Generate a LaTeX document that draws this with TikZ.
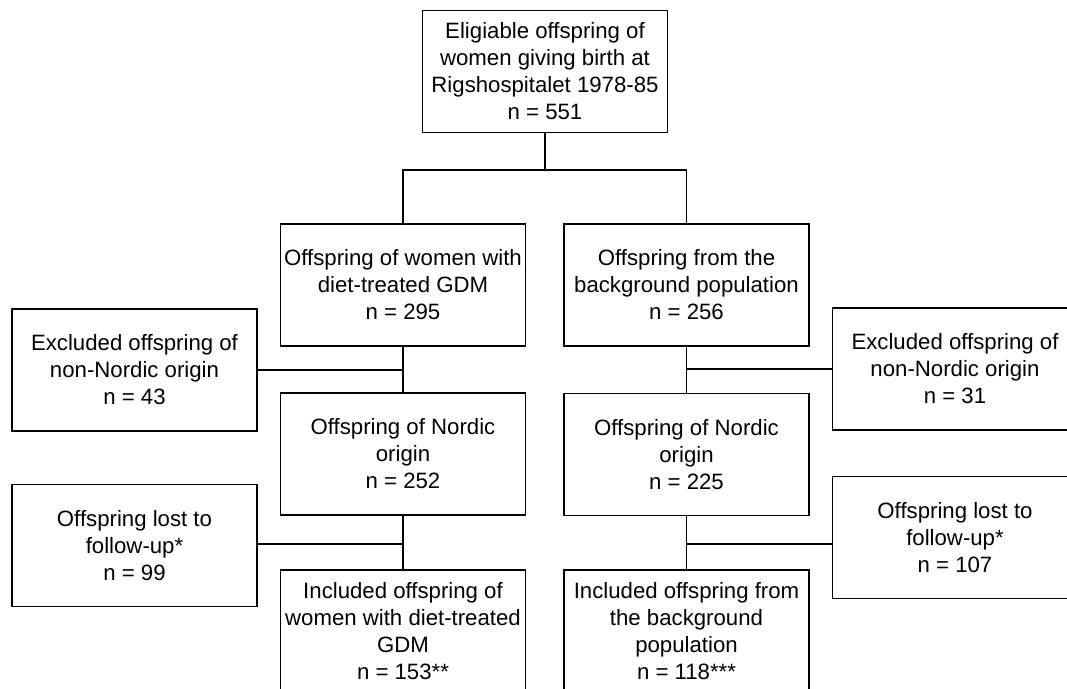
\documentclass[tikz,border=0pt]{standalone}
\usepackage{fontspec}
\setmainfont{Liberation Sans}

\begin{document}
\begin{tikzpicture}[x=0.5pt, y=-0.5pt, line width=0.6pt,
    flowbox/.style={draw, align=center, inner sep=0pt, minimum width=122.5pt, minimum height=61pt,
        font=\fontsize{11.1}{13.5}\selectfont}]
        \clip (0,0) rectangle (1067,689);
        \node[flowbox] (top) at (545,71.5) {Eligiable offspring of\\women giving birth at\\Rigshospitalet 1978-85\\n = 551};
        \node[flowbox] (gdm) at (403,285) {Offspring of women with\\diet-treated GDM\\n = 295};
        \node[flowbox] (bg) at (686.5,285) {Offspring from the\\background population\\n = 256};
        \node[flowbox] (exclL) at (134.5,370) {Excluded offspring of\\non-Nordic origin\\n = 43};
        \node[flowbox] (exclR) at (955,369) {Excluded offspring of\\non-Nordic origin\\n = 31};
        \node[flowbox] (nordL) at (403,454) {Offspring of Nordic\\origin\\n = 252};
        \node[flowbox] (nordR) at (686.5,454.5) {Offspring of Nordic\\origin\\n = 225};
        \node[flowbox] (lostL) at (134.5,545.5) {Offspring lost to\\follow-up*\\n = 99};
        \node[flowbox] (lostR) at (955,537.5) {Offspring lost to\\follow-up*\\n = 107};
        \node[flowbox] (inclL) at (403,631) {Included offspring of\\women with diet-treated\\GDM\\n = 153**};
        \node[flowbox] (inclR) at (686.5,631) {Included offspring from\\the background\\population\\n = 118***};
        \coordinate (split) at (545,170);
        \coordinate (jL) at (403,544);
        \coordinate (jR) at (686.5,544);
        \draw (top.south) -- (split);
        \draw (gdm.north) |- (split) -| (bg.north);
        \draw (gdm.south) -- (nordL.north);
        \draw (bg.south) -- (nordR.north);
        \draw (exclL.east) -- (exclL.east -| gdm.south);
        \draw (exclR.west) -- (exclR.west -| bg.south);
        \draw (nordL.south) -- (inclL.north);
        \draw (nordR.south) -- (inclR.north);
        \draw (jL) -- (jL -| lostL.east);
        \draw (jR) -- (jR -| lostR.west);
    \end{tikzpicture}
\end{document}
